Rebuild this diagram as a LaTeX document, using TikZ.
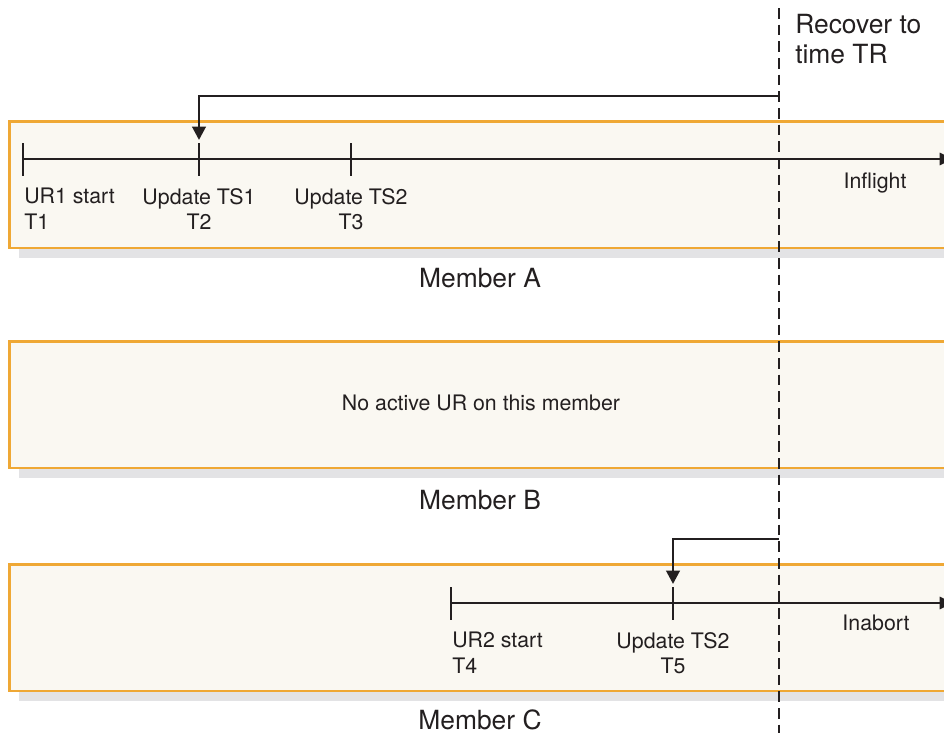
\documentclass[tikz,border=0pt]{standalone}
\usepackage{fontspec}
\setmainfont{TeX Gyre Heros}
\usepackage{xcolor}
\usetikzlibrary{positioning, arrows.meta, calc, shadows}

\definecolor{boxorange}{HTML}{EFA835}
\definecolor{boxfill}{HTML}{FAF8F2}
\definecolor{boxshadow}{HTML}{E3E3E5}
\definecolor{ink}{HTML}{231F20}

\begin{document}
\begin{tikzpicture}[
	x=0.75pt, y=-0.75pt,
	% --- estilos ---
	member/.style={
		rectangle, draw=boxorange, line width=2pt, fill=boxfill,
		drop shadow={shadow xshift=7.5pt, shadow yshift=-7.5pt, opacity=1, fill=boxshadow},
		minimum width=712pt, minimum height=95pt, anchor=north west, inner sep=0pt
	},
	timeline/.style={
		draw=ink, line width=2.1pt, -{Triangle[length=10pt, width=9pt]}
	},
	tick/.style={
		draw=ink, line width=2.1pt
	},
	recover/.style={
		draw=ink, line width=2.1pt, -{Triangle[length=10pt, width=10pt]}
	},
	cutline/.style={
		draw=ink, line width=2.1pt, dash pattern=on 8pt off 4.5pt
	},
	evlabel/.style={
		font=\fontsize{16}{19}\selectfont, text=ink, align=center, anchor=north, inner sep=0pt
	},
	title/.style={
		font=\fontsize{19.8}{22.5}\selectfont, text=ink, inner sep=0pt, anchor=base
	}
	]
	
	\useasboundingbox (0,0) rectangle (944,733);
	
	% --- 1. Los miembros ---
	\node [member] (memA) at (8,120) {};
	\node [member] (memB) at (8,340) {};
	\node [member] (memC) at (8,563) {};
	
	\node [title] (labA) at (480,287) {Member A};
	\node [title] (labB) at (480,509) {Member B};
	\node [title] (labC) at (480,729) {Member C};
	
	\node [evlabel, anchor=base] (noUR) at (481,410) {No active UR on this member};
	
	% --- 2. Linea de tiempo A ---
	\coordinate (a1) at (23,159);
	\coordinate (a2) at (199,159);
	\coordinate (a3) at (351,159);
	\coordinate (aend) at (953,159);
	\draw [timeline] (a1) -- (aend);
	\foreach \t in {a1,a2,a3}
		\draw [tick] ($(\t)+(0,-16)$) -- ($(\t)+(0,17)$);
	
	\node [evlabel, align=left, anchor=north west] (ev1) at (24,188) {UR1 start\\T1};
	\node [evlabel] (ev2) at (199,188) {Update TS1\\T2};
	\node [evlabel] (ev3) at (351,188) {Update TS2\\T3};
	\node [evlabel, anchor=base] (infl) at (875,188) {Inflight};
	
	% --- 3. Linea de tiempo C ---
	\coordinate (c1) at (451,603);
	\coordinate (c2) at (673,603);
	\coordinate (cend) at (953,603);
	\draw [timeline] (c1) -- (cend);
	\foreach \t in {c1,c2}
		\draw [tick] ($(\t)+(0,-16)$) -- ($(\t)+(0,17)$);
	
	\node [evlabel, align=left, anchor=north west] (ev4) at (452,632) {UR2 start\\T4};
	\node [evlabel] (ev5) at (673,632) {Update TS2\\T5};
	\node [evlabel, anchor=base] (inab) at (876,630) {Inabort};
	
	% --- 4. Punto de recuperacion ---
	\coordinate (trtop) at (779,8);
	\coordinate (trbot) at (779,733);
	\draw [cutline] (trtop) -- (trbot);
	\node [title, align=left, anchor=north west] (trtext) at (795,14) {Recover to\\time TR};
	
	% Flechas de retroceso
	\coordinate (backA) at (779,96);
	\coordinate (backC) at (779,539);
	\draw [recover] (backA) -| ($(a2)+(0,-19)$);
	\draw [recover] (backC) -| ($(c2)+(0,-19)$);
	
\end{tikzpicture}
\end{document}
